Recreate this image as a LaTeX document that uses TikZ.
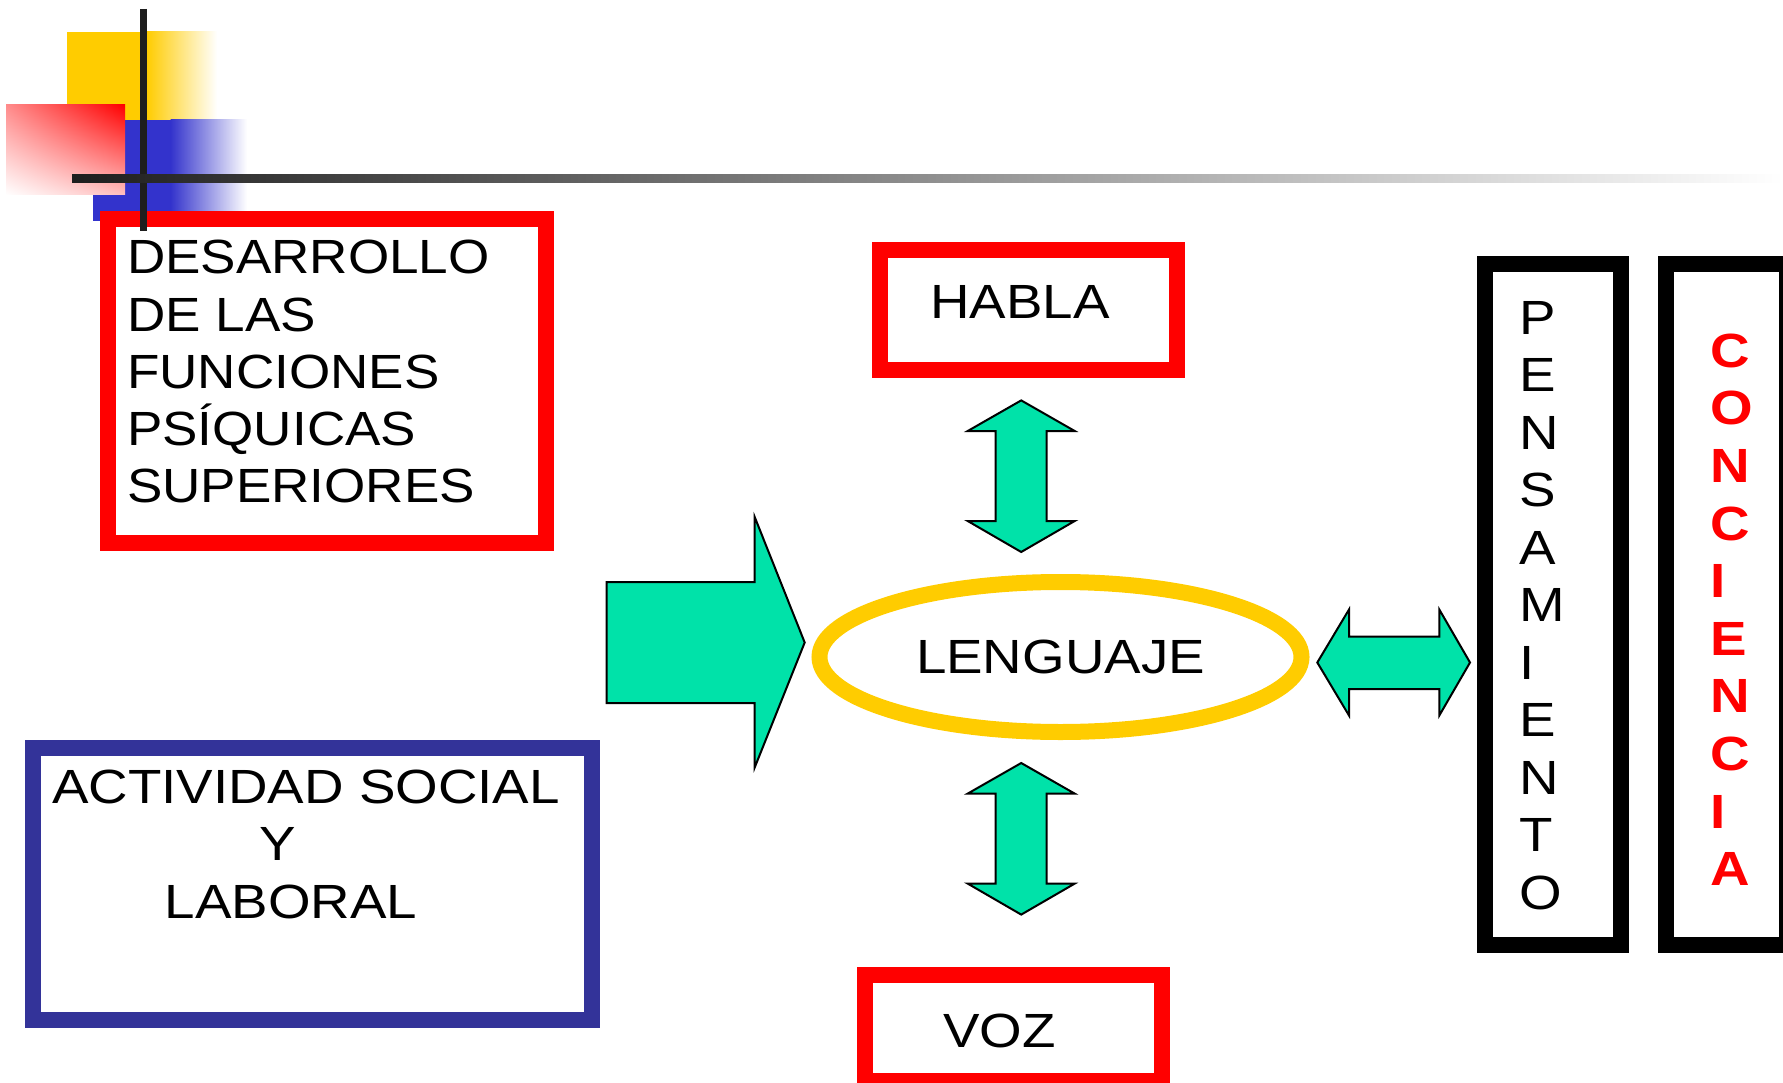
\documentclass[tikz,border=0pt]{standalone}
\usepackage{fontspec}
\setmainfont{Liberation Sans}[FakeStretch=1.14]
\newfontfamily\narrowsans{Liberation Sans}[FakeStretch=1.105]
\usetikzlibrary{shapes.geometric,shadings}
\definecolor{mapRed}{HTML}{FF0000}
\definecolor{mapBlue}{HTML}{333399}
\definecolor{mapGold}{HTML}{FFCC00}
\definecolor{mapMint}{HTML}{00E2A9}
\definecolor{mapInk}{HTML}{1E1E1E}
\definecolor{decoBlue}{HTML}{3333CC}
\tikzset{
  redbox/.style={rectangle, draw=mapRed, line width=16, inner sep=0, outer sep=0},
  bluebox/.style={rectangle, draw=mapBlue, line width=16, inner sep=0, outer sep=0},
  blackbox/.style={rectangle, draw=black, line width=16, inner sep=0, outer sep=0},
  txt/.style={font=\fontsize{48}{57.5}\selectfont, inner sep=0, text=black},
  ntxt/.style={font=\narrowsans\fontsize{48}{57.5}\selectfont, inner sep=0, text=black},
  btxt/.style={font=\fontsize{48}{57.5}\selectfont\bfseries, inner sep=0, text=mapRed},
  blk/.style={draw=black, line width=2, fill=mapMint, line join=miter},
}

\begin{document}
\begin{tikzpicture}[x=1pt,y=-1pt]
  \useasboundingbox (0,0) rectangle (1783,1083);
  % corner decoration
  \fill[mapGold] (67,32) rectangle (147,121);
  \shade[left color=mapGold, right color=white] (146.5,32) rectangle (217,121);
  \fill[decoBlue] (93,120) rectangle (171,221);
  \shade[left color=decoBlue, right color=white] (170.5,120) rectangle (247,221);
  \shade[upper right=red, lower left=white, upper left=red!45, lower right=red!25]
        (6,105) rectangle (125,195);

  % boxes
  \node[redbox, minimum width=438, minimum height=323] (dfs) at (327,381) {};
  \node[redbox, minimum width=297.5, minimum height=120] (habla) at (1028.25,309.7) {};
  \node[redbox, minimum width=297, minimum height=106] (voz) at (1013.5,1028) {};
  \node[bluebox, minimum width=559, minimum height=272] (asl) at (312,884) {};
  \node[blackbox, minimum width=136, minimum height=680.5] (pens) at (1552.5,604.25) {};
  \node[blackbox, minimum width=121, minimum height=680.5] (conc) at (1726.5,604.25) {};
  \node[ellipse, draw=mapGold, line width=16, inner sep=0, minimum width=482,
        minimum height=150, font=\fontsize{48}{57.5}\selectfont] (leng) at (1060.5,657) {LENGUAJE};

  % texts
  \foreach \w [count=\i] in {DESARROLLO,DE LAS,FUNCIONES,PSÍQUICAS,SUPERIORES}
    \node[ntxt, anchor=base west] (dfs\i) at (127,{274+57.2*(\i-1)}) {\w};
  \node[txt, anchor=base] (asl1) at (306,803.3) {ACTIVIDAD SOCIAL};
  \node[txt, anchor=base] (asl2) at (277.7,860) {Y};
  \node[txt, anchor=base] (asl3) at (291,918.3) {LABORAL};
  \node[txt, anchor=base] (hablatxt) at (1020,319) {HABLA};
  \node[txt, anchor=base] (voztxt) at (999.5,1047) {VOZ};
  \foreach \c [count=\i] in {P,E,N,S,A,M,I,E,N,T,O}
    \node[txt, anchor=base west] (pens\i) at (1519,{334.1+57.5*(\i-1)}) {\c};
  \foreach \c [count=\i] in {C,O,N,C,I,E,N,C,I,A}
    \node[btxt, anchor=base west] (conc\i) at (1710,{367.2+57.6*(\i-1)}) {\c};

  % block arrows
  \draw[blk] (606.5,582) -- (754.7,582) -- (754.7,517) -- (804.7,642.5)
        -- (754.7,767.5) -- (754.7,703) -- (606.5,703) -- cycle;
  \foreach \t in {400.4,763}
    \draw[blk] (1021.2,\t) -- (1074.7,{\t+30.6}) -- (1046.7,{\t+30.6})
        -- (1046.7,{\t+120.6}) -- (1074.7,{\t+120.6}) -- (1021.2,{\t+151.6})
        -- (967.7,{\t+120.6}) -- (995.7,{\t+120.6}) -- (995.7,{\t+30.6})
        -- (967.7,{\t+30.6}) -- cycle;
  \draw[blk] (1317.3,662.5) -- (1349,609.5) -- (1349,636.7) -- (1439.3,636.7)
        -- (1439.3,609.5) -- (1470,662.5) -- (1439.3,715.5) -- (1439.3,689)
        -- (1349,689) -- (1349,715.5) -- cycle;

  % cross lines
  \draw[mapInk, line width=7] (143.5,9) -- (143.5,231);
  \shade[left color=mapInk, right color=white] (72,175) rectangle (1783,183);
\end{tikzpicture}
\end{document}
